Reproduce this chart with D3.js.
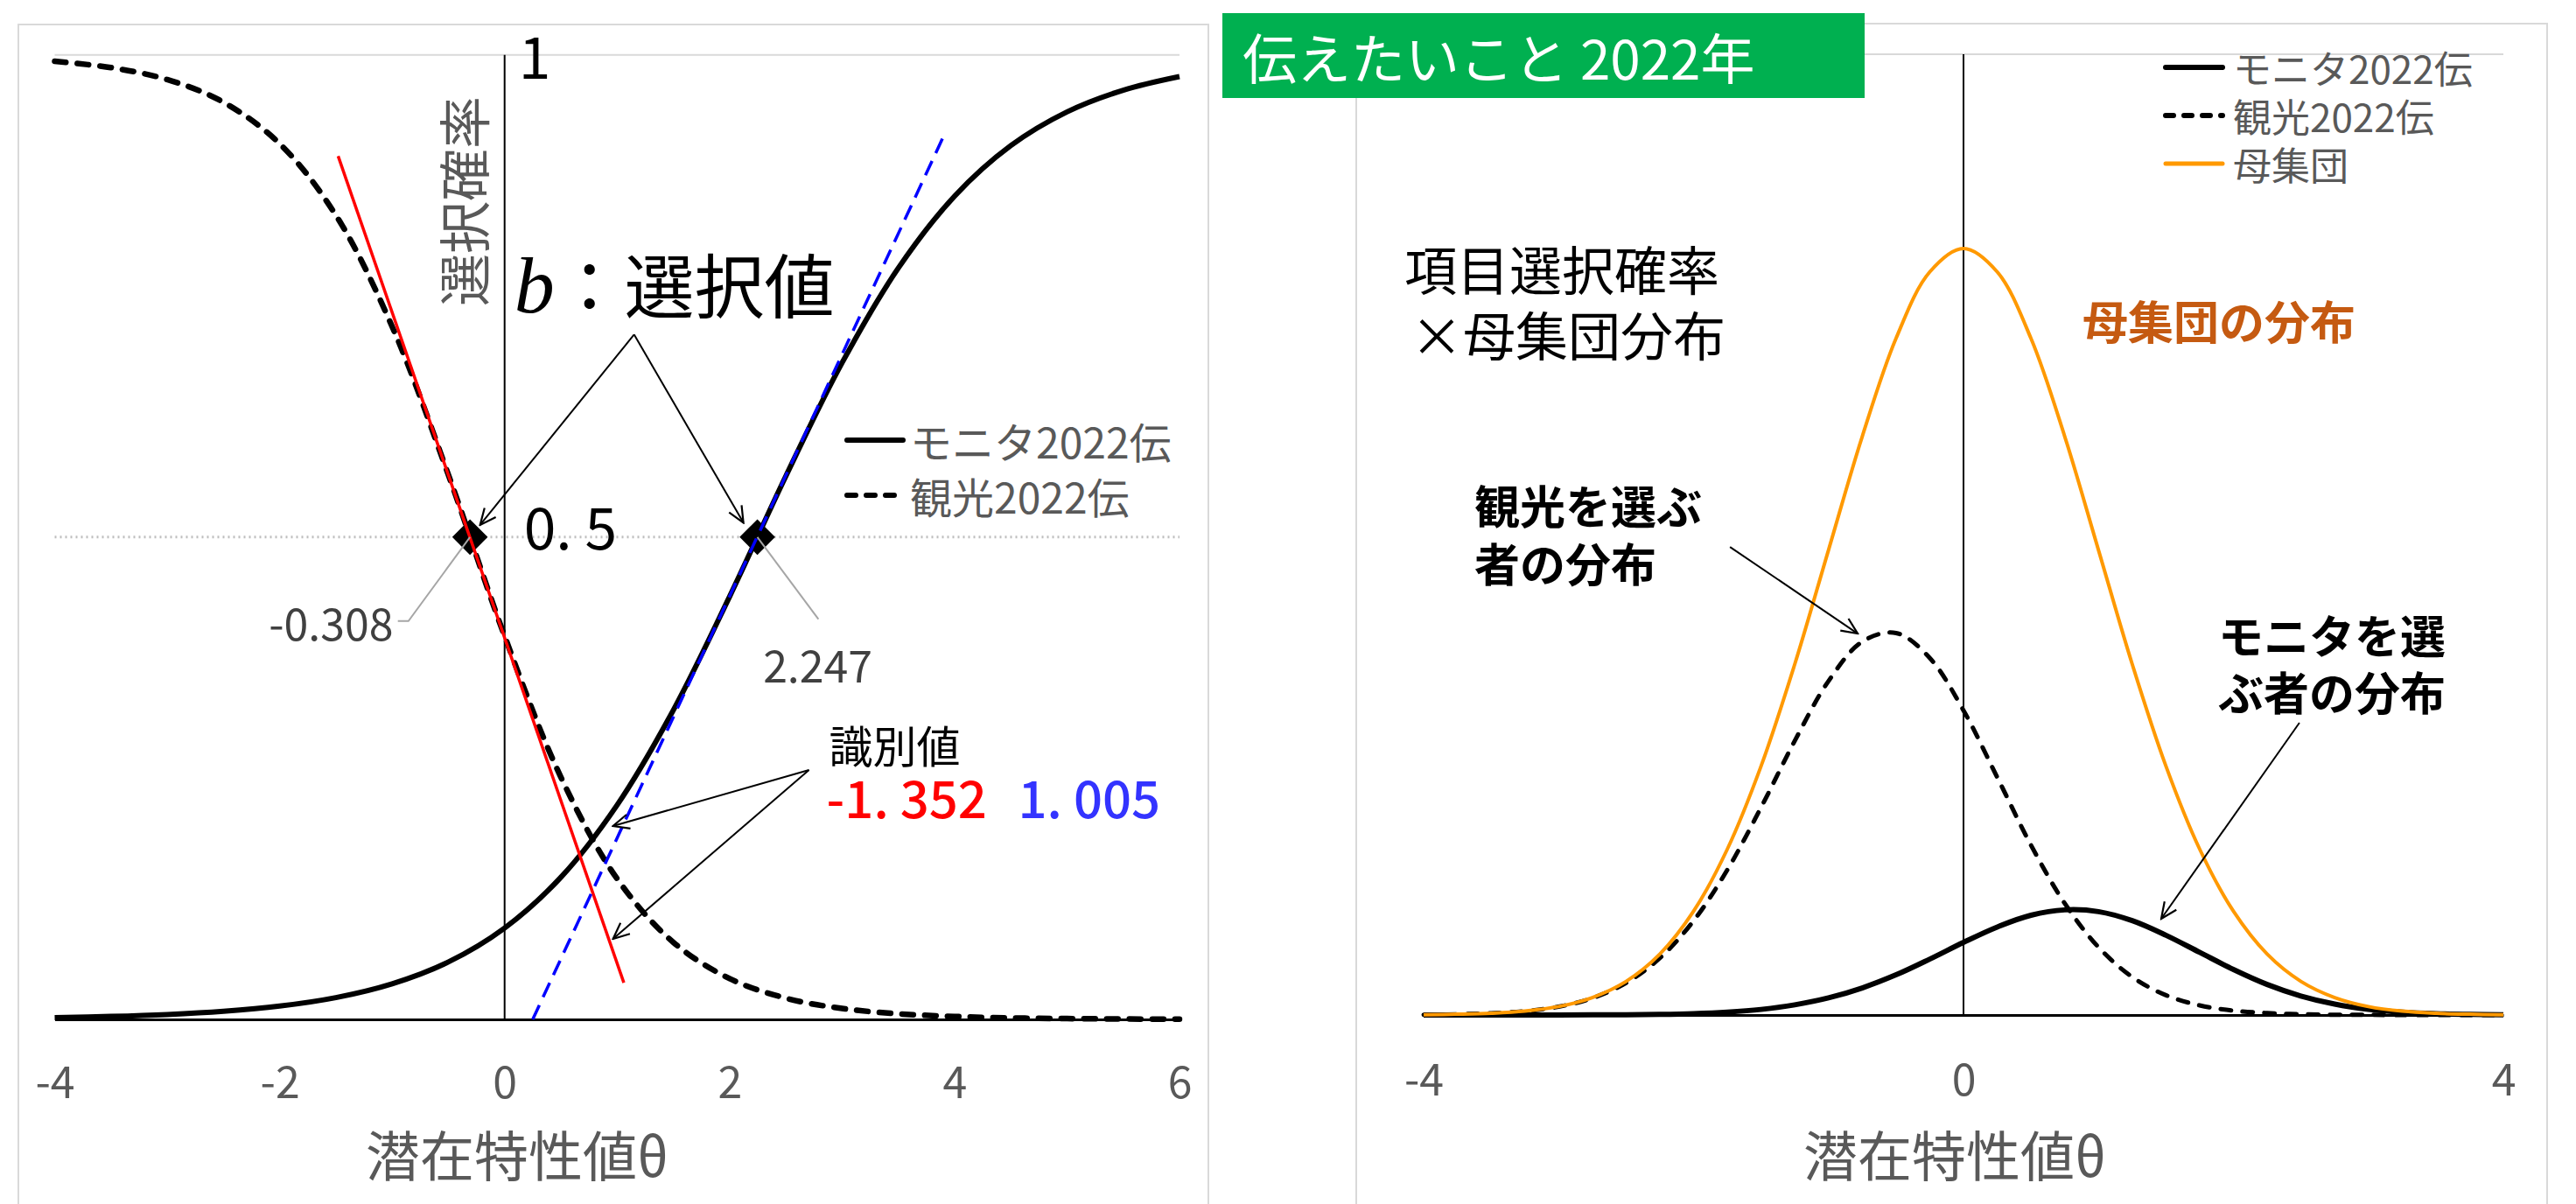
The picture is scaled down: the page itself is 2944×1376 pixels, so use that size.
<!DOCTYPE html>
<html>
<head>
<meta charset="utf-8">
<script src="https://cdn.jsdelivr.net/npm/d3@7"></script>
<style>
  body { margin: 0; background: #fff; }
  text { font-family: "Noto Sans CJK JP", "Noto Sans", sans-serif; }
</style>
</head>
<body>
<script>
// left chart: item characteristic curves
const thetaLeft = [-4, -3.5, -3, -2.5, -2, -1.5, -1, -0.5, 0, 0.5, 1, 1.5, 2, 2.5, 3, 3.5, 4, 4.5, 5, 5.5, 6];
const monitorP = [0.0019, 0.0031, 0.0051, 0.0084, 0.0138, 0.0226, 0.0369, 0.0595, 0.0947, 0.1473, 0.2222,
  0.3206, 0.4383, 0.5632, 0.6807, 0.7789, 0.8535, 0.9059, 0.9409, 0.9634, 0.9775];
const tourismP = [0.9933, 0.9868, 0.9744, 0.9509, 0.9079, 0.8337, 0.7183, 0.5646, 0.3974, 0.2512, 0.1458,
  0.0799, 0.0423, 0.0220, 0.0113, 0.0058, 0.0030, 0.0015, 0.0008, 0.0004, 0.0002];
const bValues = [-0.308, 2.247];
const redTangent = [[-1.48, 0.895], [1.06, 0.038]];
const blueTangent = [[0.25, 0.0], [3.9, 0.915]];
const leftTicks = [-4, -2, 0, 2, 4, 6];

// right chart: densities
const thetaRight = [-4, -3.75, -3.5, -3.25, -3, -2.75, -2.5, -2.25, -2, -1.75, -1.5, -1.25, -1, -0.75, -0.5, -0.25, 0,
  0.25, 0.5, 0.75, 1, 1.25, 1.5, 1.75, 2, 2.25, 2.5, 2.75, 3, 3.25, 3.5, 3.75, 4];
const popDensity = [0.0001, 0.0004, 0.0009, 0.0020, 0.0044, 0.0091, 0.0175, 0.0317, 0.0540, 0.0863, 0.1295,
  0.1826, 0.2420, 0.3011, 0.3521, 0.3867, 0.3989, 0.3867, 0.3521, 0.3011, 0.2420, 0.1826, 0.1295, 0.0863,
  0.0540, 0.0317, 0.0175, 0.0091, 0.0044, 0.0020, 0.0009, 0.0004, 0.0001];
const monitorDensity = [0, 0, 0, 0, 0, 0.0001, 0.0001, 0.0003, 0.0007, 0.0015, 0.0029, 0.0053, 0.0089, 0.0141,
  0.0209, 0.0291, 0.0378, 0.0458, 0.0519, 0.0547, 0.0538, 0.0491, 0.0415, 0.0326, 0.0237, 0.0159, 0.0099,
  0.0057, 0.0030, 0.0015, 0.0007, 0.0003, 0.0001];
const tourismDensity = [0.0001, 0.0004, 0.0009, 0.0020, 0.0043, 0.0088, 0.0167, 0.0296, 0.0490, 0.0755, 0.1080,
  0.1427, 0.1738, 0.1943, 0.1988, 0.1858, 0.1585, 0.1237, 0.0884, 0.0581, 0.0353, 0.0198, 0.0103, 0.0050,
  0.0023, 0.0010, 0.0004, 0.0001, 0.0001, 0, 0, 0, 0];
const rightTicks = [-4, 0, 4];

const gray = '#595959';
const W = 2944, H = 1376;

const svg = d3.select('body').append('svg').attr('width', W).attr('height', H);

svg.append('defs').append('marker')
  .attr('id', 'arr')
  .attr('viewBox', '0 0 12 12')
  .attr('refX', 11).attr('refY', 6)
  .attr('markerWidth', 22).attr('markerHeight', 22)
  .attr('markerUnits', 'userSpaceOnUse')
  .attr('orient', 'auto')
  .append('path')
  .attr('d', 'M1,1.5 L11,6 L1,10.5')
  .attr('fill', 'none').attr('stroke', '#000').attr('stroke-width', 1.2);

// ---------- left chart ----------
const xL = d3.scaleLinear().domain([-4, 6]).range([62.5, 1348]);
const yL = d3.scaleLinear().domain([0, 1]).range([1165, 62.7]);
const gL = svg.append('g');

gL.append('rect').attr('x', 21).attr('y', 28).attr('width', 1360).attr('height', 1400)
  .attr('fill', 'none').attr('stroke', '#d9d9d9').attr('stroke-width', 2);

gL.append('line').attr('x1', xL(-4)).attr('x2', xL(6)).attr('y1', yL(1)).attr('y2', yL(1))
  .attr('stroke', '#d9d9d9').attr('stroke-width', 2);
gL.append('line').attr('x1', xL(-4)).attr('x2', xL(6)).attr('y1', yL(0.5)).attr('y2', yL(0.5))
  .attr('stroke', '#bfbfbf').attr('stroke-width', 3).attr('stroke-dasharray', '2,4');
gL.append('line').attr('x1', xL(0)).attr('x2', xL(0)).attr('y1', yL(0)).attr('y2', yL(1))
  .attr('stroke', '#000').attr('stroke-width', 2);

const axL = gL.append('g').attr('transform', `translate(0,${yL(0)})`)
  .call(d3.axisBottom(xL).tickValues(leftTicks).tickSize(0).tickFormat((d) => String(d)));
axL.select('.domain').attr('stroke', '#000').attr('stroke-width', 3);
axL.selectAll('text').attr('y', 68).attr('dy', null).attr('dominant-baseline', 'central')
  .attr('font-size', 50).attr('fill', gray).attr('font-family', '"Noto Sans CJK JP", sans-serif');

const lineL = d3.line().x((d) => xL(d[0])).y((d) => yL(d[1])).curve(d3.curveCatmullRom.alpha(0.5));
gL.append('path').datum(thetaLeft.map((t, i) => [t, monitorP[i]])).attr('d', lineL)
  .attr('fill', 'none').attr('stroke', '#000').attr('stroke-width', 6);
gL.append('path').datum(thetaLeft.map((t, i) => [t, tourismP[i]])).attr('d', lineL)
  .attr('fill', 'none').attr('stroke', '#000').attr('stroke-width', 6.5)
  .attr('stroke-dasharray', '13,13').attr('stroke-linecap', 'round');

gL.selectAll('path.diamond').data(bValues).enter().append('path')
  .attr('class', 'diamond')
  .attr('d', d3.symbol(d3.symbolDiamond2, 1050))
  .attr('transform', (d) => `translate(${xL(d)},${yL(0.5)})`)
  .attr('fill', '#000');

gL.append('path').datum(redTangent).attr('d', d3.line().x((d) => xL(d[0])).y((d) => yL(d[1])))
  .attr('stroke', '#ff0000').attr('stroke-width', 3.5).attr('fill', 'none');
gL.append('path').datum(blueTangent).attr('d', d3.line().x((d) => xL(d[0])).y((d) => yL(d[1])))
  .attr('stroke', '#0000ff').attr('stroke-width', 3.5).attr('fill', 'none').attr('stroke-dasharray', '18,10');

// leader lines and b labels
gL.append('polyline')
  .attr('points', [[xL(-0.308), yL(0.5)], [xL(-0.855), yL(0.413)], [xL(-0.949), yL(0.413)]].join(' '))
  .attr('fill', 'none').attr('stroke', '#a6a6a6').attr('stroke-width', 2);
gL.append('polyline')
  .attr('points', [[xL(2.247), yL(0.5)], [xL(2.79), yL(0.415)]].join(' '))
  .attr('fill', 'none').attr('stroke', '#a6a6a6').attr('stroke-width', 2);
gL.append('text').attr('x', xL(-0.99)).attr('y', yL(0.413)).attr('text-anchor', 'end')
  .attr('dominant-baseline', 'central').attr('font-size', 50).attr('fill', '#404040').text('-0.308');
gL.append('text').attr('x', xL(2.784)).attr('y', yL(0.369)).attr('text-anchor', 'middle')
  .attr('dominant-baseline', 'central').attr('font-size', 50).attr('fill', '#404040').text('2.247');

// y labels
gL.append('text').attr('x', xL(0.124)).attr('y', yL(0.975)).attr('font-size', 66)
  .attr('font-family', '"Liberation Serif", serif').attr('fill', '#000').text('1');
gL.append('text').attr('x', xL(0.171)).attr('y', yL(0.487)).attr('font-size', 66)
  .attr('font-family', '"Liberation Serif", serif').attr('fill', '#000').text('0. 5');
gL.append('text').attr('transform', `translate(527,230) rotate(-90)`).attr('text-anchor', 'middle')
  .attr('dominant-baseline', 'central').attr('font-size', 60).attr('fill', gray).text('選択確率');

// b annotation
const bTxt = gL.append('text').attr('x', xL(0.085)).attr('y', yL(0.733)).attr('fill', '#000');
bTxt.append('tspan').attr('font-family', '"Liberation Serif", serif').attr('font-style', 'italic')
  .attr('font-size', 92).text('b');
bTxt.append('tspan').attr('font-size', 80).text('：選択値');
[[-0.218, 0.5126], [2.123, 0.515]].forEach((p) => {
  gL.append('line').attr('x1', xL(1.151)).attr('y1', yL(0.71)).attr('x2', xL(p[0])).attr('y2', yL(p[1]))
    .attr('stroke', '#000').attr('stroke-width', 2).attr('marker-end', 'url(#arr)');
});

// discrimination annotation
gL.append('text').attr('x', xL(2.885)).attr('y', yL(0.266)).attr('font-size', 50).attr('fill', '#000').text('識別値');
gL.append('text').attr('x', xL(2.862)).attr('y', yL(0.2087)).attr('font-size', 58).attr('font-weight', 500)
  .attr('fill', '#ff0000').text('-1. 352');
gL.append('text').attr('x', xL(4.565)).attr('y', yL(0.2087)).attr('font-size', 58).attr('font-weight', 500)
  .attr('fill', '#3333ff').text('1. 005');
[[0.964, 0.2005], [0.964, 0.0835]].forEach((p) => {
  gL.append('line').attr('x1', xL(2.706)).attr('y1', yL(0.2585)).attr('x2', xL(p[0])).attr('y2', yL(p[1]))
    .attr('stroke', '#000').attr('stroke-width', 2).attr('marker-end', 'url(#arr)');
});

// left legend
const legL = [{ name: 'モニタ2022伝', dash: null, y: 503 }, { name: '観光2022伝', dash: '10,12', y: 566 }];
legL.forEach((d) => {
  gL.append('line').attr('x1', 968).attr('x2', 1032).attr('y1', d.y).attr('y2', d.y)
    .attr('stroke', '#000').attr('stroke-width', 6).attr('stroke-linecap', 'round')
    .attr('stroke-dasharray', d.dash);
  gL.append('text').attr('x', 1040).attr('y', d.y).attr('dominant-baseline', 'central')
    .attr('font-size', 48).attr('fill', gray).text(d.name);
});

gL.append('text').attr('x', 591).attr('y', 1318).attr('text-anchor', 'middle')
  .attr('dominant-baseline', 'central').attr('font-size', 62).attr('fill', gray).text('潜在特性値θ');

// ---------- right chart ----------
const xR = d3.scaleLinear().domain([-4, 4]).range([1627, 2861]);
const yR = d3.scaleLinear().domain([0, 0.5]).range([1160, 62]);
const gR = svg.append('g');

gR.append('rect').attr('x', 1550).attr('y', 27).attr('width', 1361).attr('height', 1400)
  .attr('fill', 'none').attr('stroke', '#d9d9d9').attr('stroke-width', 2);
gR.append('line').attr('x1', xR(-4)).attr('x2', xR(4)).attr('y1', yR(0.5)).attr('y2', yR(0.5))
  .attr('stroke', '#d9d9d9').attr('stroke-width', 2);
gR.append('line').attr('x1', xR(0)).attr('x2', xR(0)).attr('y1', yR(0)).attr('y2', yR(0.5))
  .attr('stroke', '#000').attr('stroke-width', 2);

const axR = gR.append('g').attr('transform', `translate(0,${yR(0)})`)
  .call(d3.axisBottom(xR).tickValues(rightTicks).tickSize(0).tickFormat((d) => String(d)));
axR.select('.domain').attr('stroke', '#000').attr('stroke-width', 3);
axR.selectAll('text').attr('y', 70).attr('dy', null).attr('dominant-baseline', 'central')
  .attr('font-size', 50).attr('fill', gray).attr('font-family', '"Noto Sans CJK JP", sans-serif');

const lineR = d3.line().x((d) => xR(d[0])).y((d) => yR(d[1])).curve(d3.curveCatmullRom.alpha(0.5));
gR.append('path').datum(thetaRight.map((t, i) => [t, monitorDensity[i]])).attr('d', lineR)
  .attr('fill', 'none').attr('stroke', '#000').attr('stroke-width', 6);
gR.append('path').datum(thetaRight.map((t, i) => [t, tourismDensity[i]])).attr('d', lineR)
  .attr('fill', 'none').attr('stroke', '#000').attr('stroke-width', 5)
  .attr('stroke-dasharray', '12,13').attr('stroke-linecap', 'round');
gR.append('path').datum(thetaRight.map((t, i) => [t, popDensity[i]])).attr('d', lineR)
  .attr('fill', 'none').attr('stroke', '#ff9900').attr('stroke-width', 4);

// right legend
const legR = [
  { name: 'モニタ2022伝', color: '#000', dash: null, y: 77 },
  { name: '観光2022伝', color: '#000', dash: '9,12', y: 132 },
  { name: '母集団', color: '#ff9900', dash: null, y: 187 },
];
legR.forEach((d) => {
  gR.append('line').attr('x1', 2475).attr('x2', 2540).attr('y1', d.y).attr('y2', d.y)
    .attr('stroke', d.color).attr('stroke-width', d.color === '#000' ? 6 : 5).attr('stroke-linecap', 'round')
    .attr('stroke-dasharray', d.dash);
  gR.append('text').attr('x', 2552).attr('y', d.y).attr('dominant-baseline', 'central')
    .attr('font-size', 44).attr('fill', gray).text(d.name);
});

// right annotations
gR.append('text').attr('x', 1605).attr('y', 305).attr('dominant-baseline', 'central')
  .attr('font-size', 60).attr('fill', '#000').text('項目選択確率');
gR.append('text').attr('x', 1612).attr('y', 380).attr('dominant-baseline', 'central')
  .attr('font-size', 60).attr('fill', '#000').text('×母集団分布');
gR.append('text').attr('x', 2380).attr('y', 365).attr('dominant-baseline', 'central')
  .attr('font-size', 52).attr('font-weight', 'bold').attr('fill', '#c55a11').text('母集団の分布');
[['観光を選ぶ', 576], ['者の分布', 642]].forEach((d) => {
  gR.append('text').attr('x', 1685).attr('y', d[1]).attr('dominant-baseline', 'central')
    .attr('font-size', 52).attr('font-weight', 'bold').attr('fill', '#000').text(d[0]);
});
[['モニタを選', 724], ['ぶ者の分布', 789]].forEach((d) => {
  gR.append('text').attr('x', 2535).attr('y', d[1]).attr('dominant-baseline', 'central')
    .attr('font-size', 52).attr('font-weight', 'bold').attr('fill', '#000').text(d[0]);
});
gR.append('line').attr('x1', xR(-1.73)).attr('y1', yR(0.2436)).attr('x2', xR(-0.784)).attr('y2', yR(0.1985))
  .attr('stroke', '#000').attr('stroke-width', 2).attr('marker-end', 'url(#arr)');
gR.append('line').attr('x1', xR(2.489)).attr('y1', yR(0.1521)).attr('x2', xR(1.465)).attr('y2', yR(0.0501))
  .attr('stroke', '#000').attr('stroke-width', 2).attr('marker-end', 'url(#arr)');

gR.append('text').attr('x', 2234).attr('y', 1318).attr('text-anchor', 'middle')
  .attr('dominant-baseline', 'central').attr('font-size', 62).attr('fill', gray).text('潜在特性値θ');

// green banner
svg.append('rect').attr('x', 1397).attr('y', 15).attr('width', 734).attr('height', 97).attr('fill', '#00b050');
svg.append('text').attr('x', 1420).attr('y', 64).attr('dominant-baseline', 'central')
  .attr('font-size', 62).attr('fill', '#fff').text('伝えたいこと 2022年');
</script>
</body>
</html>
